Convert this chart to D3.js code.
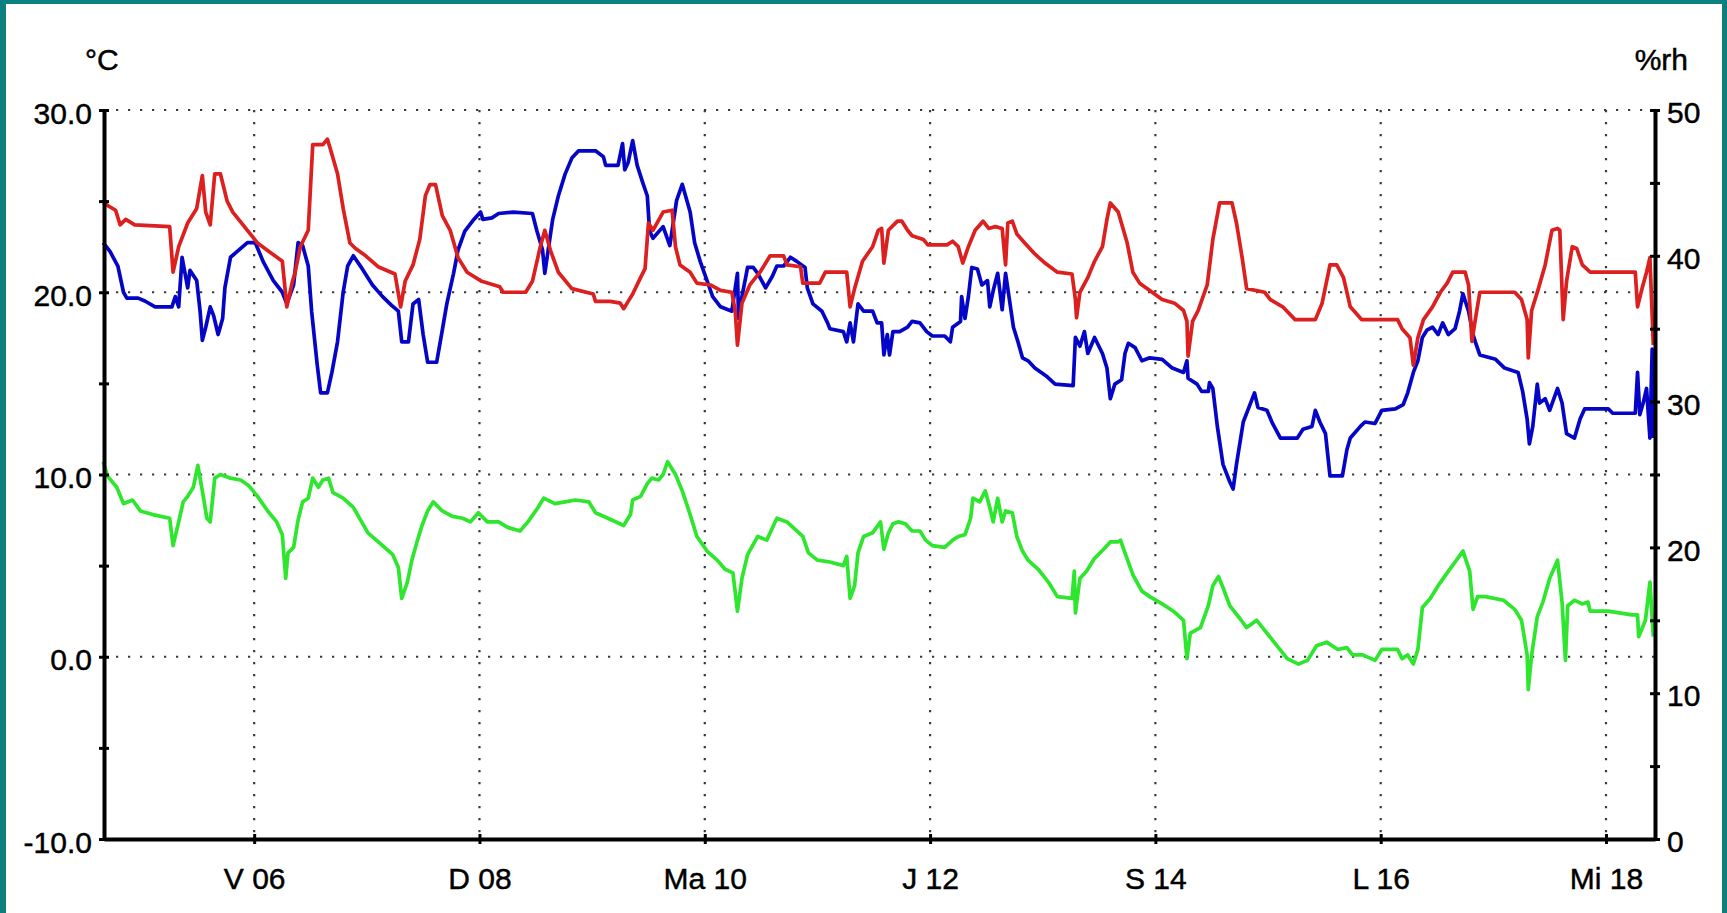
<!DOCTYPE html>
<html>
<head>
<meta charset="utf-8">
<script src="https://cdn.jsdelivr.net/npm/d3@7"></script>
<style>
  html, body { margin: 0; padding: 0; background: #0c7f7f; }
  svg { display: block; }
  text { font-family: "Liberation Sans", Arial, sans-serif; fill: #000; stroke: #000; stroke-width: 0.45px; }
</style>
</head>
<body>
<svg id="chart" width="1727" height="913"></svg>
<script>
// Time is expressed as day of month (decimal days).
const timeSpan = [4.667, 18.435];
const dayTicks = [6, 8, 10, 12, 14, 16, 18];
const dayLabels = ["V 06", "D 08", "Ma 10", "J 12", "S 14", "L 16", "Mi 18"];

const tempDomain = [-10, 30];
const tempMajorTicks = [-10, 0, 10, 20, 30];
const tempAllTicks = [-10, -5, 0, 5, 10, 15, 20, 25, 30];
const humDomain = [0, 50];
const humMajorTicks = [0, 10, 20, 30, 40, 50];
const humAllTicks = [0, 5, 10, 15, 20, 25, 30, 35, 40, 45, 50];

const tempUnit = "°C";
const humUnit = "%rh";

// Air temperature, °C  [day, value]
const temperature = [
  [4.66,24.9],[4.77,24.5],[4.81,23.7],[4.86,24.0],[4.94,23.7],[5.25,23.6],[5.28,21.1],[5.33,22.5],[5.41,23.8],[5.49,24.6],
  [5.54,26.4],[5.57,24.4],[5.61,23.7],[5.65,26.5],[5.70,26.5],[5.76,25.0],[5.81,24.4],[5.94,23.4],[6.03,22.7],[6.14,22.2],
  [6.25,21.7],[6.29,19.2],[6.34,20.6],[6.36,21.0],[6.41,22.5],[6.48,23.4],[6.52,28.1],[6.61,28.1],[6.65,28.4],[6.67,28.0],
  [6.74,26.5],[6.79,24.6],[6.85,22.7],[6.90,22.4],[6.99,22.0],[7.10,21.4],[7.25,21.0],[7.30,19.2],[7.34,20.6],[7.41,21.5],
  [7.47,22.9],[7.52,25.3],[7.56,25.9],[7.61,25.9],[7.67,24.2],[7.74,23.4],[7.81,21.9],[7.89,21.1],[8.02,20.6],[8.18,20.3],
  [8.21,20.0],[8.41,20.0],[8.47,20.6],[8.54,22.5],[8.58,23.4],[8.63,22.3],[8.70,21.1],[8.82,20.2],[9.01,19.9],[9.03,19.5],
  [9.16,19.5],[9.25,19.4],[9.28,19.1],[9.32,19.5],[9.36,19.9],[9.43,20.8],[9.47,21.3],[9.50,23.8],[9.54,23.4],[9.63,24.4],
  [9.71,24.5],[9.74,22.5],[9.78,21.5],[9.87,21.1],[9.93,20.5],[10.05,20.4],[10.14,20.1],[10.24,20.0],[10.27,19.0],[10.29,17.1],
  [10.33,19.4],[10.40,20.4],[10.49,21.1],[10.58,22.0],[10.70,22.0],[10.73,21.5],[10.85,21.4],[10.87,20.5],[11.02,20.5],[11.07,21.1],
  [11.26,21.1],[11.29,19.2],[11.33,20.2],[11.40,21.7],[11.49,22.5],[11.54,23.4],[11.57,23.5],[11.59,21.6],[11.63,23.4],[11.71,23.9],
  [11.75,23.9],[11.80,23.4],[11.84,23.1],[11.94,22.9],[11.98,22.6],[12.15,22.6],[12.20,22.8],[12.25,22.5],[12.29,21.6],[12.34,22.5],
  [12.40,23.4],[12.47,23.9],[12.52,23.5],[12.58,23.6],[12.64,23.5],[12.67,21.5],[12.69,23.8],[12.73,23.9],[12.77,23.2],[12.84,22.7],
  [12.93,22.1],[13.02,21.6],[13.13,21.1],[13.26,21.0],[13.29,19.6],[13.30,18.6],[13.33,20.0],[13.40,20.8],[13.46,21.7],[13.53,22.5],
  [13.57,24.0],[13.60,24.9],[13.67,24.4],[13.75,22.7],[13.80,21.1],[13.86,20.5],[13.95,20.1],[14.06,19.6],[14.17,19.4],[14.25,19.0],
  [14.28,18.4],[14.29,16.5],[14.33,18.4],[14.38,19.0],[14.46,20.4],[14.51,22.9],[14.57,24.9],[14.68,24.9],[14.72,23.8],[14.77,21.9],
  [14.81,20.2],[14.97,20.0],[15.02,19.6],[15.13,19.2],[15.24,18.5],[15.42,18.5],[15.48,19.4],[15.55,21.5],[15.61,21.5],[15.67,20.8],
  [15.73,19.2],[15.83,18.5],[16.15,18.5],[16.19,18.0],[16.26,17.5],[16.29,16.0],[16.33,17.5],[16.38,18.5],[16.46,19.2],[16.53,20.0],
  [16.59,20.5],[16.64,21.1],[16.75,21.1],[16.78,20.4],[16.81,17.3],[16.84,18.5],[16.88,20.0],[17.19,20.0],[17.25,19.6],[17.30,18.5],
  [17.31,16.4],[17.34,19.0],[17.40,20.2],[17.46,21.5],[17.52,23.4],[17.57,23.5],[17.59,23.4],[17.62,18.5],[17.65,20.6],[17.70,22.5],
  [17.74,22.4],[17.79,21.5],[17.86,21.1],[18.26,21.1],[18.28,19.2],[18.32,20.2],[18.36,21.1],[18.39,21.9],[18.42,17.1]
];

// Relative humidity, %rh  [day, value]
const humidity = [
  [4.66,40.9],[4.72,40.3],[4.79,39.3],[4.84,37.5],[4.87,37.1],[4.97,37.1],[5.03,36.9],[5.12,36.5],[5.27,36.5],[5.30,37.2],
  [5.33,36.5],[5.36,39.9],[5.41,37.8],[5.43,39.0],[5.49,38.3],[5.52,36.2],[5.54,34.2],[5.57,35.1],[5.61,36.5],[5.64,35.9],
  [5.68,34.6],[5.72,35.7],[5.74,37.8],[5.79,39.9],[5.85,40.3],[5.94,40.9],[6.01,40.9],[6.08,39.6],[6.17,38.3],[6.25,37.5],
  [6.29,36.7],[6.35,38.0],[6.39,40.9],[6.43,40.7],[6.48,39.3],[6.51,36.2],[6.56,32.5],[6.59,30.6],[6.65,30.6],[6.69,32.0],
  [6.74,34.1],[6.79,37.5],[6.83,39.3],[6.88,40.0],[6.96,39.1],[7.05,38.0],[7.14,37.2],[7.22,36.6],[7.28,36.2],[7.31,34.1],
  [7.37,34.1],[7.41,36.7],[7.46,37.0],[7.50,34.6],[7.54,32.7],[7.62,32.7],[7.67,34.9],[7.71,36.7],[7.77,38.8],[7.81,40.4],
  [7.87,41.7],[7.94,42.4],[8.01,43.0],[8.03,42.5],[8.11,42.6],[8.17,42.9],[8.30,43.0],[8.47,42.9],[8.51,41.7],[8.56,40.4],
  [8.58,38.8],[8.61,40.4],[8.65,42.5],[8.70,44.1],[8.76,45.6],[8.82,46.7],[8.88,47.2],[9.03,47.2],[9.10,46.8],[9.12,46.2],
  [9.23,46.2],[9.27,47.7],[9.29,45.9],[9.32,46.4],[9.36,47.9],[9.40,46.2],[9.45,45.0],[9.49,44.1],[9.51,41.7],[9.54,41.2],
  [9.63,42.0],[9.69,40.7],[9.75,43.8],[9.80,44.9],[9.87,43.0],[9.91,40.9],[9.96,39.6],[10.02,38.3],[10.07,37.2],[10.14,36.5],
  [10.24,36.2],[10.29,38.8],[10.30,35.7],[10.33,37.2],[10.38,39.2],[10.43,39.2],[10.47,38.8],[10.54,37.8],[10.60,38.6],[10.64,39.3],
  [10.70,39.3],[10.76,39.9],[10.82,39.6],[10.89,39.2],[10.91,37.8],[10.96,36.7],[11.04,36.2],[11.09,35.4],[11.11,35.0],[11.23,34.8],
  [11.26,34.1],[11.29,35.4],[11.32,34.1],[11.36,36.7],[11.41,36.2],[11.49,36.2],[11.53,35.4],[11.57,35.4],[11.59,33.2],[11.62,34.6],
  [11.64,33.2],[11.67,34.8],[11.73,34.8],[11.80,35.1],[11.84,35.5],[11.91,35.4],[11.97,34.8],[12.02,34.5],[12.13,34.5],[12.18,34.1],
  [12.20,35.1],[12.27,35.5],[12.28,37.2],[12.31,35.7],[12.34,37.2],[12.37,39.2],[12.42,39.1],[12.46,38.0],[12.51,38.3],[12.53,36.5],
  [12.56,37.6],[12.60,38.8],[12.64,36.3],[12.67,38.8],[12.71,36.7],[12.74,35.1],[12.78,34.1],[12.82,33.0],[12.87,32.8],[12.93,32.3],
  [13.04,31.7],[13.11,31.2],[13.27,31.1],[13.29,34.4],[13.33,33.8],[13.37,34.8],[13.40,33.3],[13.46,34.4],[13.53,33.3],[13.57,32.3],
  [13.60,30.2],[13.64,31.2],[13.70,31.5],[13.73,33.3],[13.76,34.0],[13.82,33.7],[13.88,32.8],[13.95,33.0],[14.06,32.9],[14.15,32.3],
  [14.25,32.0],[14.28,32.8],[14.29,31.6],[14.37,31.2],[14.41,30.7],[14.47,30.7],[14.48,31.3],[14.51,30.9],[14.55,28.3],[14.60,25.7],
  [14.66,24.5],[14.69,24.0],[14.72,25.7],[14.78,28.6],[14.82,29.4],[14.88,30.6],[14.91,29.6],[14.99,29.4],[15.04,28.5],[15.11,27.5],
  [15.26,27.5],[15.31,28.1],[15.39,28.3],[15.42,29.4],[15.46,28.6],[15.51,27.8],[15.55,24.9],[15.66,24.9],[15.70,26.7],[15.73,27.5],
  [15.82,28.3],[15.86,28.6],[15.95,28.5],[16.01,29.4],[16.13,29.5],[16.20,29.8],[16.24,30.6],[16.29,32.0],[16.33,32.8],[16.37,34.4],
  [16.41,34.9],[16.46,35.1],[16.51,34.6],[16.55,35.4],[16.60,34.6],[16.66,35.0],[16.70,36.2],[16.73,37.4],[16.78,36.2],[16.82,34.6],
  [16.84,34.1],[16.88,33.2],[17.02,32.9],[17.10,32.3],[17.22,32.0],[17.26,30.7],[17.30,28.8],[17.32,27.1],[17.35,28.3],[17.39,31.2],
  [17.41,29.9],[17.46,30.2],[17.50,29.4],[17.57,30.9],[17.61,29.9],[17.65,27.8],[17.72,27.5],[17.77,28.8],[17.81,29.5],[18.02,29.5],
  [18.06,29.2],[18.26,29.2],[18.28,32.0],[18.30,29.1],[18.33,29.9],[18.36,30.9],[18.39,27.5],[18.41,33.6],[18.42,27.5]
];

// Dew point, °C  [day, value]
const dewPoint = [
  [4.66,10.7],[4.70,9.9],[4.78,9.3],[4.84,8.4],[4.92,8.6],[4.99,8.0],[5.10,7.8],[5.25,7.6],[5.28,6.1],[5.33,7.4],
  [5.37,8.5],[5.41,8.8],[5.46,9.3],[5.50,10.5],[5.54,9.1],[5.58,7.6],[5.61,7.4],[5.65,9.8],[5.70,10.0],[5.79,9.8],
  [5.88,9.7],[5.95,9.4],[6.03,8.8],[6.12,8.0],[6.20,7.4],[6.25,6.7],[6.28,4.3],[6.30,5.7],[6.35,6.0],[6.39,7.5],
  [6.43,8.5],[6.48,8.7],[6.52,9.8],[6.57,9.3],[6.61,9.7],[6.66,9.8],[6.70,9.0],[6.79,8.7],[6.88,8.2],[7.01,6.8],
  [7.14,6.1],[7.23,5.6],[7.28,4.9],[7.31,3.2],[7.36,4.1],[7.40,5.3],[7.45,6.4],[7.49,7.2],[7.54,8.0],[7.59,8.5],
  [7.67,8.0],[7.76,7.7],[7.85,7.6],[7.92,7.4],[7.99,7.9],[8.07,7.4],[8.17,7.4],[8.25,7.1],[8.36,6.9],[8.43,7.4],
  [8.51,8.1],[8.57,8.7],[8.67,8.4],[8.76,8.5],[8.85,8.6],[8.97,8.5],[9.03,7.9],[9.14,7.6],[9.28,7.2],[9.34,7.8],
  [9.36,8.6],[9.43,8.8],[9.49,9.5],[9.53,9.8],[9.59,9.7],[9.63,10.0],[9.67,10.7],[9.74,10.0],[9.80,9.1],[9.87,7.8],
  [9.93,6.6],[10.02,5.8],[10.11,5.3],[10.18,4.8],[10.25,4.6],[10.29,2.5],[10.33,4.3],[10.38,5.6],[10.47,6.6],[10.55,6.4],
  [10.64,7.6],[10.73,7.4],[10.80,7.0],[10.87,6.6],[10.92,5.7],[11.00,5.3],[11.11,5.2],[11.23,5.0],[11.26,5.5],[11.29,3.2],
  [11.33,3.9],[11.36,5.7],[11.41,6.6],[11.49,6.8],[11.56,7.4],[11.59,5.9],[11.63,6.8],[11.67,7.3],[11.72,7.4],[11.78,7.3],
  [11.84,6.9],[11.91,6.9],[11.96,6.4],[12.02,6.1],[12.13,6.0],[12.20,6.4],[12.25,6.6],[12.31,6.7],[12.36,7.6],[12.38,8.7],
  [12.44,8.5],[12.49,9.1],[12.53,8.2],[12.56,7.4],[12.60,8.7],[12.64,7.4],[12.67,8.0],[12.73,7.9],[12.77,6.6],[12.82,5.8],
  [12.87,5.3],[12.96,4.8],[13.05,4.1],[13.13,3.3],[13.26,3.2],[13.28,4.7],[13.29,2.4],[13.33,4.3],[13.39,4.7],[13.46,5.4],
  [13.54,5.9],[13.60,6.3],[13.67,6.3],[13.69,6.4],[13.73,5.7],[13.80,4.5],[13.88,3.6],[13.95,3.3],[14.06,2.9],[14.16,2.5],
  [14.25,2.0],[14.28,-0.1],[14.31,1.3],[14.40,1.6],[14.47,2.8],[14.51,3.9],[14.56,4.4],[14.60,3.8],[14.66,2.8],[14.75,2.1],
  [14.81,1.6],[14.90,2.0],[14.99,1.3],[15.08,0.6],[15.17,-0.1],[15.27,-0.4],[15.35,-0.2],[15.43,0.6],[15.52,0.8],[15.62,0.4],
  [15.70,0.5],[15.75,0.1],[15.84,0.1],[15.95,-0.2],[16.01,0.4],[16.15,0.4],[16.19,-0.1],[16.24,0.1],[16.29,-0.4],[16.33,0.4],
  [16.37,2.7],[16.44,3.2],[16.51,3.9],[16.59,4.6],[16.66,5.2],[16.73,5.8],[16.79,4.7],[16.82,2.6],[16.86,3.3],[16.93,3.3],
  [17.09,3.1],[17.19,2.6],[17.25,2.0],[17.30,0.1],[17.31,-1.8],[17.34,0.1],[17.39,2.2],[17.44,3.0],[17.50,4.3],[17.57,5.3],
  [17.61,3.0],[17.64,-0.2],[17.66,2.8],[17.72,3.1],[17.79,2.9],[17.84,3.0],[17.86,2.5],[18.02,2.5],[18.23,2.3],[18.28,2.3],
  [18.29,1.1],[18.35,2.0],[18.39,4.1],[18.42,1.1]
];

const W = 1727, H = 913;
const plot = { left: 104, right: 1655, top: 110, bottom: 839 };
const FONT = 30;

const svg = d3.select("#chart");

// teal frame with white panel
svg.append("rect").attr("width", W).attr("height", H).attr("fill", "#0c7f7f");
svg.append("rect").attr("x", 6).attr("y", 4).attr("width", W - 11).attr("height", H - 4).attr("fill", "#ffffff");

const x = d3.scaleLinear().domain(timeSpan).range([plot.left, plot.right]);
const yT = d3.scaleLinear().domain(tempDomain).range([plot.bottom, plot.top]);
const yH = d3.scaleLinear().domain(humDomain).range([plot.bottom, plot.top]);

// dotted grid
const grid = svg.append("g")
  .attr("stroke", "#3a3a3a").attr("stroke-width", 2.2).attr("stroke-dasharray", "2.2 9.8");
grid.selectAll("line.h").data(tempMajorTicks.filter(v => v > tempDomain[0])).join("line")
  .attr("class", "h")
  .attr("x1", plot.left).attr("x2", plot.right)
  .attr("y1", d => yT(d)).attr("y2", d => yT(d));
grid.selectAll("line.v").data(dayTicks).join("line")
  .attr("class", "v")
  .attr("x1", d => x(d)).attr("x2", d => x(d))
  .attr("y1", plot.top).attr("y2", plot.bottom);

// series
const lineT = d3.line().x(d => x(d[0])).y(d => yT(d[1]));
const lineH = d3.line().x(d => x(d[0])).y(d => yH(d[1]));

const series = svg.append("g").attr("fill", "none").attr("stroke-linejoin", "round").attr("stroke-width", 3.7);
series.append("path").datum(dewPoint).attr("d", lineT).attr("stroke", "#2de62d");
series.append("path").datum(humidity).attr("d", lineH).attr("stroke", "#0505c8");
series.append("path").datum(temperature).attr("d", lineT).attr("stroke", "#dc1f1f");

// axes
function styleAxis(g) {
  g.select(".domain").attr("stroke", "#000").attr("stroke-width", 4);
  g.selectAll(".tick line").attr("stroke", "#000").attr("stroke-width", 3);
  g.selectAll(".tick text").style("font-size", FONT + "px").attr("fill", "#000");
}

const leftAxis = d3.axisLeft(yT)
  .tickValues(tempAllTicks)
  .tickSizeInner(5).tickSizeOuter(0)
  .tickFormat(d => tempMajorTicks.includes(d) ? d.toFixed(1) : "");
const gl = svg.append("g").attr("transform", `translate(${plot.left},0)`).call(leftAxis);
styleAxis(gl);
gl.selectAll(".tick line").attr("x1", 5).attr("x2", -5);
gl.selectAll(".tick text").attr("x", -12).attr("dy", "0.44em");

const rightAxis = d3.axisRight(yH)
  .tickValues(humAllTicks)
  .tickSizeInner(5).tickSizeOuter(0)
  .tickFormat(d => humMajorTicks.includes(d) ? String(d) : "");
const gr = svg.append("g").attr("transform", `translate(${plot.right},0)`).call(rightAxis);
styleAxis(gr);
gr.selectAll(".tick line").attr("x1", -5).attr("x2", 5);
gr.selectAll(".tick text").attr("x", 12).attr("dy", "0.42em");

const bottomAxis = d3.axisBottom(x)
  .tickValues(dayTicks)
  .tickSizeInner(5).tickSizeOuter(0)
  .tickFormat((d, i) => dayLabels[i]);
const gb = svg.append("g").attr("transform", `translate(0,${plot.bottom})`).call(bottomAxis);
styleAxis(gb);
gb.selectAll(".tick line").attr("y1", -5).attr("y2", 5);
gb.selectAll(".tick text").attr("y", 50).attr("dy", 0);

// unit captions
svg.append("text").attr("x", 85).attr("y", 70).style("font-size", FONT + "px").text(tempUnit);
svg.append("text").attr("x", 1688).attr("y", 70).attr("text-anchor", "end").style("font-size", FONT + "px").text(humUnit);
</script>
</body>
</html>
